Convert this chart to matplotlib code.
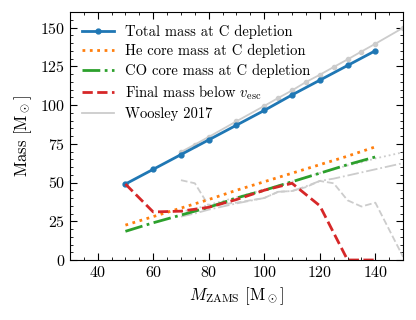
import numpy as np
import matplotlib
matplotlib.use('Agg')
import matplotlib.pyplot as plt
from matplotlib.ticker import MultipleLocator

plt.rcParams['font.family'] = 'serif'
plt.rcParams['font.serif'] = ['cmr10']
plt.rcParams['mathtext.fontset'] = 'cm'
plt.rcParams['axes.unicode_minus'] = False
plt.rcParams['axes.formatter.use_mathtext'] = True

# our models
m_zams = [50, 60, 70, 80, 90, 100, 110, 120, 130, 140]
m_total = [49, 58.5, 68, 77.5, 87, 96.5, 106.5, 116, 125.5, 135]
m_he = [22.5, 28, 33.5, 39, 45, 50.5, 56, 61.5, 67, 73]
m_co = [18.5, 24, 29, 34, 40, 45, 50.5, 56, 61.5, 66.5]
m_final = [49, 31, 31.5, 34, 39, 45, 49.5, 35, 0, 0]

# Woosley 2017
w_zams = [70, 75, 80, 90, 100, 105, 110, 115, 120, 125, 130, 135, 140, 150]
w_total = [69.7, 74.5, 79.4, 89.5, 99.4, 104.5, 109.4, 114.8, 119.5, 124.5, 129.4, 134.5, 139.5, 149.8]
w_he = [31, 33, 35.5, 40.5, 45.5, 48, 50.5, 53.5, 56, 58.5, 61, 63, 65.5, 69.5]
w_co = [28, 30, 32.5, 36.5, 40, 44, 44.5, 47.5, 51, 52.5, 54.5, 56.5, 58.5, 62.5]
w_final = [51.5, 49.5, 35, 37, 40, 44, 44.5, 47, 51, 49.5, 38.5, 34.5, 37, 2]

grey = '#cccccc'

fig = plt.figure(figsize=(4.16, 3.2), dpi=100)
ax = fig.add_axes([0.168, 0.1875, 0.801, 0.775])

ax.plot(w_zams, w_total, color=grey, lw=1.3, marker='o', ms=3)
ax.plot(w_zams, w_he, color=grey, lw=1.3, ls=':')
ax.plot(w_zams, w_co, color=grey, lw=1.3, ls='-.')
ax.plot(w_zams, w_final, color=grey, lw=1.3, ls='--')

ax.plot(m_zams, m_total, color='tab:blue', lw=2, marker='o', ms=3.5, label='Total mass at C depletion')
ax.plot(m_zams, m_he, color='tab:orange', lw=2, ls=':', label='He core mass at C depletion')
ax.plot(m_zams, m_co, color='tab:green', lw=2, ls='-.', label='CO core mass at C depletion')
ax.plot(m_zams, m_final, color='tab:red', lw=2, ls='--', label=r'Final mass below $v_{\rm esc}$')
ax.plot([], [], color=grey, lw=1.3, label='Woosley 2017')

ax.set_xlim(30, 150)
ax.set_ylim(0, 160)
ax.xaxis.set_major_locator(MultipleLocator(20))
ax.xaxis.set_minor_locator(MultipleLocator(5))
ax.yaxis.set_major_locator(MultipleLocator(25))
ax.yaxis.set_minor_locator(MultipleLocator(5))
ax.tick_params(which='both', direction='in', top=True, right=True, labelsize=11.5)
ax.tick_params(which='major', length=5)
ax.tick_params(which='minor', length=2.5)

ax.set_xlabel(r'$M_{\rm ZAMS}$ [M$_\odot$]', fontsize=12)
ax.set_ylabel(r'Mass [M$_\odot$]', fontsize=12)
ax.legend(loc='upper left', frameon=False, fontsize=10.5, handlelength=2.2,
          labelspacing=0.37, borderaxespad=0.45, handletextpad=0.7)

fig.savefig('out.png', dpi=100)
